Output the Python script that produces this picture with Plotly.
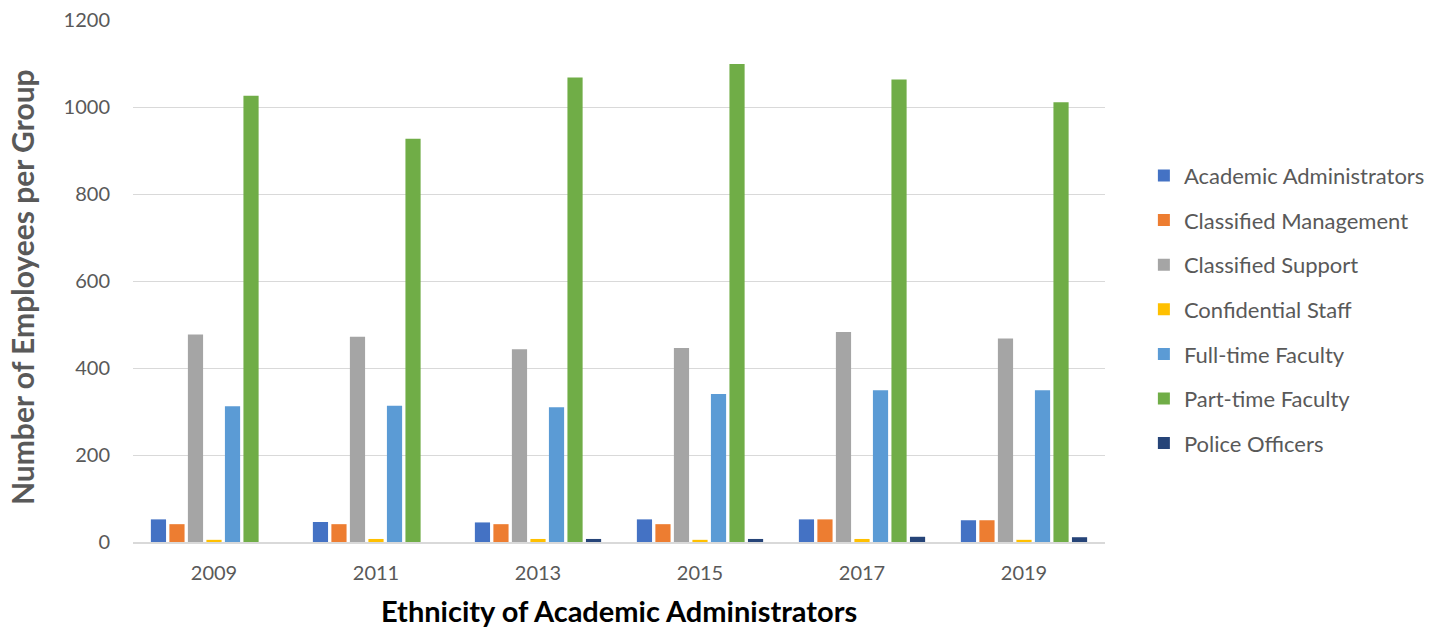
import plotly.graph_objects as go

years = ["2009", "2011", "2013", "2015", "2017", "2019"]

academic_admin = [52, 46, 45, 52, 52, 50]
classified_mgmt = [41, 41, 41, 41, 52, 50]
classified_support = [477, 472, 443, 446, 483, 468]
confidential_staff = [5, 7, 7, 5, 7, 5]
fulltime_faculty = [312, 313, 310, 340, 349, 349]
parttime_faculty = [1026, 927, 1068, 1099, 1063, 1011]
police_officers = [0, 0, 7, 7, 12, 11]

series = [
    ("Academic Administrators", academic_admin, "#4472C4"),
    ("Classified Management", classified_mgmt, "#ED7D31"),
    ("Classified Support", classified_support, "#A5A5A5"),
    ("Confidential Staff", confidential_staff, "#FFC000"),
    ("Full-time Faculty", fulltime_faculty, "#5B9BD5"),
    ("Part-time Faculty", parttime_faculty, "#70AD47"),
    ("Police Officers", police_officers, "#264478"),
]

fig = go.Figure()
for i, (name, vals, color) in enumerate(series):
    fig.add_trace(go.Bar(
        x=years, y=vals, name=name, marker_color=color,
        marker_line_width=0, legendgroup=str(i),
    ))

font_family = "Lato, 'Open Sans', sans-serif"

fig.update_layout(
    width=1447, height=630,
    margin=dict(l=133, r=342, t=20, b=88),
    plot_bgcolor="white", paper_bgcolor="white",
    barmode="group", bargap=0.2, bargroupgap=0.18,
    font=dict(family=font_family, color="#595959", size=20),
    legend=dict(
        x=1.04, y=0.445, xanchor="left", yanchor="middle",
        font=dict(size=22, color="#595959"),
        tracegroupgap=13, itemwidth=30,
    ),
    xaxis=dict(
        automargin=False,
        showgrid=False, showline=True, linecolor="#d9d9d9", linewidth=1.5,
        ticks="", tickfont=dict(size=20, color="#595959"),
        ticklabelstandoff=12,
    ),
    yaxis=dict(
        automargin=False,
        range=[0, 1200], dtick=200, showgrid=True, gridcolor="#d9d9d9",
        gridwidth=1, zeroline=False, ticks="",
        tickfont=dict(size=20, color="#595959"), ticklabelstandoff=22,
    ),
    annotations=[
        dict(text="<b>Ethnicity of Academic Administrators</b>",
             xref="paper", yref="paper", x=0.5, y=-0.131,
             xanchor="center", yanchor="middle", showarrow=False,
             font=dict(size=29, color="black")),
        dict(text="<b>Number of Employees per Group</b>",
             xref="paper", yref="paper", x=-0.1142, y=0.4885,
             xanchor="center", yanchor="middle", showarrow=False,
             textangle=-90, font=dict(size=30, color="#595959")),
    ],
)

fig.write_html("out.html")
